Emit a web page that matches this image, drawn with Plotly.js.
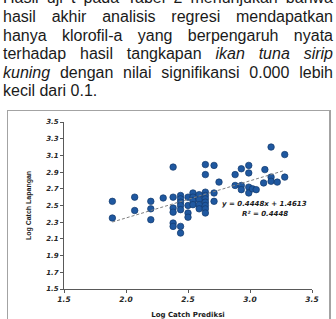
<!DOCTYPE html>
<html>
<head>
<meta charset="utf-8">
<script src="https://cdn.plot.ly/plotly-3.0.1.min.js"></script>
<style>
  html, body { margin:0; padding:0; background:#fff; width:336px; height:319px; overflow:hidden; }
  #text { position:absolute; left:3px; top:-10.8px; width:330px; font-family:"Liberation Sans", Arial, sans-serif; font-size:16px; line-height:18.65px; color:#1a1a1a; }
  #text .j { text-align:justify; text-align-last:justify; }
  #box { position:absolute; left:7px; top:110px; width:321px; height:240px; border:1px solid #a3a3a3; border-right:2px solid #a3a3a3; }
  #chart { position:absolute; left:0; top:0; width:336px; height:319px; }
</style>
</head>
<body>
<div id="text">
  <div class="j">Hasil uji t pada Tabel 2 menunjukan bahwa</div>
  <div class="j">hasil akhir analisis regresi mendapatkan</div>
  <div class="j">hanya klorofil-a yang berpengaruh nyata</div>
  <div class="j">terhadap hasil tangkapan <i>ikan tuna sirip</i></div>
  <div class="j"><i>kuning</i> dengan nilai signifikansi 0.000 lebih</div>
  <div>kecil dari 0.1.</div>
</div>
<div id="box"></div>
<div id="chart"></div>
<script>
// Log Catch Prediksi (x) and Log Catch Lapangan (y)
const logCatchPrediksi = [
  1.89, 1.89,
  2.07, 2.07,
  2.20, 2.20, 2.20,
  2.30,
  2.38, 2.38, 2.38, 2.38, 2.38, 2.38,
  2.44, 2.44, 2.44, 2.44, 2.44, 2.44, 2.44,
  2.50, 2.50, 2.50, 2.50,
  2.54, 2.54, 2.54, 2.54,
  2.59, 2.59, 2.59, 2.59,
  2.64, 2.64, 2.64, 2.64, 2.64, 2.64, 2.64, 2.64, 2.64,
  2.71, 2.71, 2.71,
  2.75,
  2.88, 2.88,
  2.93, 2.93, 2.93,
  2.99, 2.99, 2.99, 2.99,
  3.02,
  3.05,
  3.11,
  3.12,
  3.17, 3.17, 3.17,
  3.22,
  3.28, 3.28
];
const logCatchLapangan = [
  2.55, 2.35,
  2.60, 2.44,
  2.55, 2.46, 2.33,
  2.59,
  2.96, 2.60, 2.47, 2.42, 2.29, 2.25,
  2.62, 2.58, 2.54, 2.50, 2.45, 2.25, 2.17,
  2.60, 2.50, 2.41, 2.36,
  2.65, 2.60, 2.56, 2.51,
  2.63, 2.57, 2.51, 2.46,
  2.99, 2.87, 2.66, 2.62, 2.58, 2.54, 2.50, 2.46, 2.41,
  2.98, 2.65, 2.55,
  2.78,
  2.87, 2.74,
  2.94, 2.74, 2.69,
  2.98, 2.89, 2.72, 2.65,
  2.70,
  2.69,
  2.77,
  2.93,
  3.20, 2.84, 2.79,
  2.78,
  3.11, 2.84
];
const trendSlope = 0.4448;
const trendIntercept = 1.4613;
const equationText = "y = 0.4448x + 1.4613";
const r2Text = "R\u00b2 = 0.4448";

const xMin = Math.min(...logCatchPrediksi);
const xMax = Math.max(...logCatchPrediksi);
const trendX = [xMin, xMax];
const trendY = trendX.map(v => trendSlope * v + trendIntercept);

const tickFontY = {family:"DejaVu Sans", size:7, color:"#262626", weight:"bold", style:"italic"};
const tickFontX = {family:"DejaVu Sans", size:7.5, color:"#262626", weight:"bold", style:"italic"};
const eqFont = {family:"DejaVu Sans", size:7, color:"#1a1a1a", weight:"bold", style:"italic"};

const data = [
  {
    type:"scatter", mode:"markers",
    x: logCatchPrediksi, y: logCatchLapangan,
    marker:{size:6.5, color:"#1f58a0", line:{color:"#123a6b", width:0.7}},
    hoverinfo:"x+y", showlegend:false
  },
  {
    type:"scatter", mode:"lines",
    x: trendX, y: trendY,
    line:{color:"#7f7f7f", width:1, dash:"3px,2px"},
    hoverinfo:"skip", showlegend:false
  }
];

const layout = {
  width:336, height:319,
  margin:{l:64, r:24, t:122, b:30, pad:0},
  paper_bgcolor:"rgba(0,0,0,0)",
  plot_bgcolor:"rgba(0,0,0,0)",
  showlegend:false,
  xaxis:{
    range:[1.5,3.5], tick0:1.5, dtick:0.5, tickformat:".1f",
    showgrid:false, zeroline:false, showline:true, linecolor:"#595959", linewidth:1,
    ticks:"outside", ticklen:3, tickcolor:"#595959", tickfont:tickFontX,
    title:{text:"Log Catch Prediksi", font:{family:"DejaVu Sans", size:7, color:"#1a1a1a", weight:"bold"}, standoff:9}
  },
  yaxis:{
    range:[1.5,3.5], tick0:1.5, dtick:0.2, tickformat:".1f",
    showgrid:false, zeroline:false, showline:true, linecolor:"#595959", linewidth:1,
    ticks:"outside", ticklen:3, tickcolor:"#595959", tickfont:tickFontY,
    title:{text:"Log Catch Lapangan", font:{family:"Liberation Sans", size:7, color:"#1a1a1a", weight:"bold"}, standoff:13}
  },
  annotations:[
    {xref:"x", yref:"y", x:3.12, y:2.52, text:equationText, showarrow:false, font:eqFont, xanchor:"center", yanchor:"middle"},
    {xref:"x", yref:"y", x:3.12, y:2.40, text:r2Text, showarrow:false, font:eqFont, xanchor:"center", yanchor:"middle"}
  ]
};

Plotly.newPlot("chart", data, layout, {displayModeBar:false, staticPlot:true});
</script>
</body>
</html>
